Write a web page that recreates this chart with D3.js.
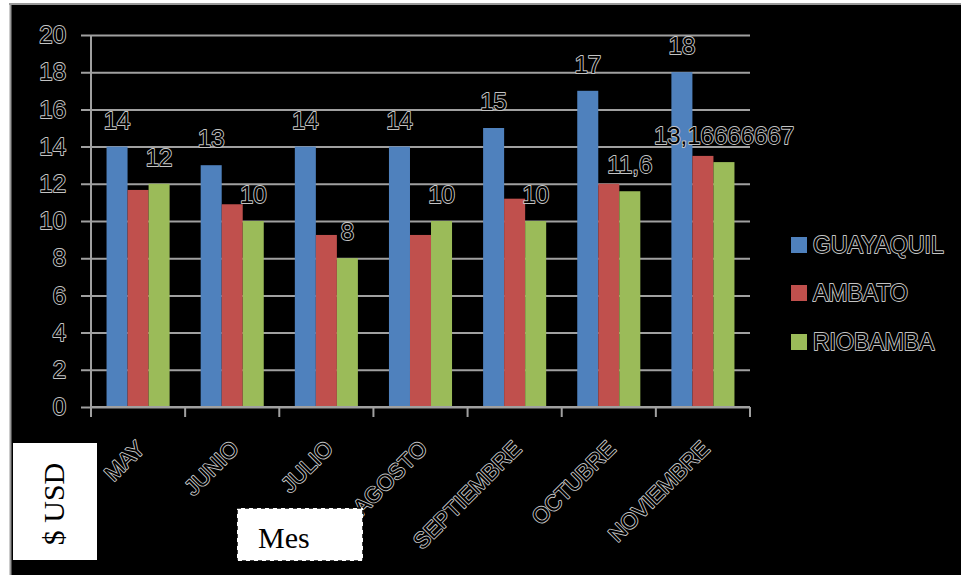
<!DOCTYPE html>
<html>
<head>
<meta charset="utf-8">
<script src="https://cdn.jsdelivr.net/npm/d3@7/dist/d3.min.js"></script>
<style>
  html, body { margin: 0; padding: 0; background: #fff; }
  svg { display: block; }
</style>
</head>
<body>
<svg id="chart" width="961" height="575"></svg>
<script>
// Monthly price per city ($ USD)
const categories = ["MAY", "JUNIO", "JULIO", "AGOSTO", "SEPTIEMBRE", "OCTUBRE", "NOVIEMBRE"];
const seriesNames = ["GUAYAQUIL", "AMBATO", "RIOBAMBA"];
const guayaquil = [14, 13, 14, 14, 15, 17, 18];
const ambato = [11.67, 10.9, 9.25, 9.25, 11.2, 12, 13.5];
const riobamba = [12, 10, 8, 10, 10, 11.6, 13.16666667];
const yTicks = [0, 2, 4, 6, 8, 10, 12, 14, 16, 18, 20];
const colors = ["#4F81BD", "#C0504D", "#9BBB59"];
// which series carry value labels
const labelled = [true, false, true];

const series = [guayaquil, ambato, riobamba];

const svg = d3.select("#chart");
const W = 961, H = 575;

// page frame: black panel with grey top/left rule
svg.append("rect").attr("x", 0).attr("y", 0).attr("width", W).attr("height", H).attr("fill", "#fff");
svg.append("rect").attr("x", 11).attr("y", 5).attr("width", W - 11).attr("height", H - 5).attr("fill", "#000");
svg.append("line").attr("x1", 9).attr("x2", W).attr("y1", 4).attr("y2", 4)
  .attr("stroke", "#999").attr("stroke-width", 2);
svg.append("line").attr("x1", 10.5).attr("x2", 10.5).attr("y1", 3).attr("y2", H)
  .attr("stroke", "#999").attr("stroke-width", 2);

const plot = { left: 91, right: 750, top: 35, bottom: 407 };

const y = d3.scaleLinear().domain([0, 20]).range([plot.bottom, plot.top]);
const x0 = d3.scaleBand().domain(categories).range([plot.left, plot.right])
  .paddingInner(0.33).paddingOuter(0.165);
const x1 = d3.scaleBand().domain(d3.range(series.length)).range([0, x0.bandwidth()]);

const gridColor = "#a0a0a0";
const FONT = "Liberation Sans, Arial, sans-serif";
// outlined text: light halo round a black glyph
const outlineText = sel => sel.attr("fill", "#000").attr("stroke", "#c4c4c4")
  .attr("stroke-width", 1.8).attr("stroke-linejoin", "round").attr("paint-order", "stroke");

// gridlines with left tick stubs
const yAxis = d3.axisLeft(y).tickValues(yTicks).tickSize(plot.right - plot.left + 10)
  .tickFormat(d3.format("d"));
const gy = svg.append("g").attr("transform", `translate(${plot.right},0)`).call(yAxis);
gy.select(".domain").remove();
gy.selectAll(".tick line").attr("stroke", gridColor).attr("stroke-width", 2);
gy.selectAll(".tick text")
  .attr("font-family", FONT).attr("font-size", 24)
  .attr("x", -(plot.right - plot.left) - 25)
  .call(outlineText);

// vertical axis line
svg.append("line").attr("x1", plot.left).attr("x2", plot.left)
  .attr("y1", plot.top).attr("y2", plot.bottom)
  .attr("stroke", gridColor).attr("stroke-width", 2);

// bars
const groups = svg.append("g").selectAll("g").data(categories).join("g")
  .attr("transform", d => `translate(${x0(d)},0)`);
groups.selectAll("rect")
  .data((c, i) => series.map((s, k) => ({ k, v: s[i] })))
  .join("rect")
  .attr("x", d => x1(d.k))
  .attr("width", x1.bandwidth())
  .attr("y", d => y(d.v))
  .attr("height", d => y(0) - y(d.v))
  .attr("fill", d => colors[d.k]);

// value labels
const fmt = v => String(v).replace(".", ",");
groups.selectAll("text.val")
  .data((c, i) => series.map((s, k) => ({ k, v: s[i] })).filter(d => labelled[d.k]))
  .join("text")
  .attr("class", "val")
  .attr("x", d => x1(d.k) + x1.bandwidth() / 2)
  .attr("y", d => y(d.v) - 18)
  .attr("text-anchor", "middle")
  .attr("font-family", FONT)
  .attr("font-size", 24)
  .text(d => fmt(d.v))
  .call(outlineText);

// category axis
const xAxis = d3.axisBottom(x0).tickSize(0).tickFormat(d => d);
const gx = svg.append("g").attr("transform", `translate(0,${plot.bottom})`).call(xAxis);
gx.select(".domain").attr("stroke", gridColor).attr("stroke-width", 2)
  .attr("d", `M${plot.left},0H${plot.right}`);
gx.selectAll(".tick line").remove();
const step = x0.step();
gx.selectAll("line.sep").data(d3.range(categories.length + 1)).join("line")
  .attr("class", "sep")
  .attr("x1", i => plot.left + i * step).attr("x2", i => plot.left + i * step)
  .attr("y1", 0).attr("y2", 10)
  .attr("stroke", gridColor).attr("stroke-width", 2);
gx.selectAll(".tick text")
  .attr("text-anchor", "end")
  .attr("font-family", FONT)
  .attr("font-size", 22)
  .attr("y", 0).attr("dy", 0)
  .attr("transform", "translate(8,43) rotate(-45)")
  .call(outlineText);

// legend
const legend = svg.append("g").attr("transform", "translate(791,0)");
const legendY = [245, 293, 342];
seriesNames.forEach((name, k) => {
  legend.append("rect").attr("x", 0).attr("y", legendY[k] - 8)
    .attr("width", 16).attr("height", 16).attr("fill", colors[k]);
  legend.append("text").attr("x", 22).attr("y", legendY[k])
    .attr("dominant-baseline", "central")
    .attr("font-family", FONT).attr("font-size", 23)
    .text(name).call(outlineText);
});

// axis title boxes
svg.append("rect").attr("x", 13).attr("y", 443).attr("width", 84).attr("height", 117).attr("fill", "#fff");
svg.append("text")
  .attr("transform", "translate(64,504) rotate(-90)")
  .attr("text-anchor", "middle")
  .attr("font-family", "Liberation Serif, Times New Roman, serif").attr("font-size", 30)
  .attr("fill", "#000").text("$ USD");

svg.append("rect").attr("x", 237).attr("y", 508).attr("width", 126).attr("height", 53)
  .attr("fill", "#fff").attr("stroke", "#000").attr("stroke-width", 1.5)
  .attr("stroke-dasharray", "4,4");
svg.append("text").attr("x", 258).attr("y", 548)
  .attr("font-family", "Liberation Serif, Times New Roman, serif").attr("font-size", 30)
  .attr("fill", "#000").text("Mes");
</script>
</body>
</html>
